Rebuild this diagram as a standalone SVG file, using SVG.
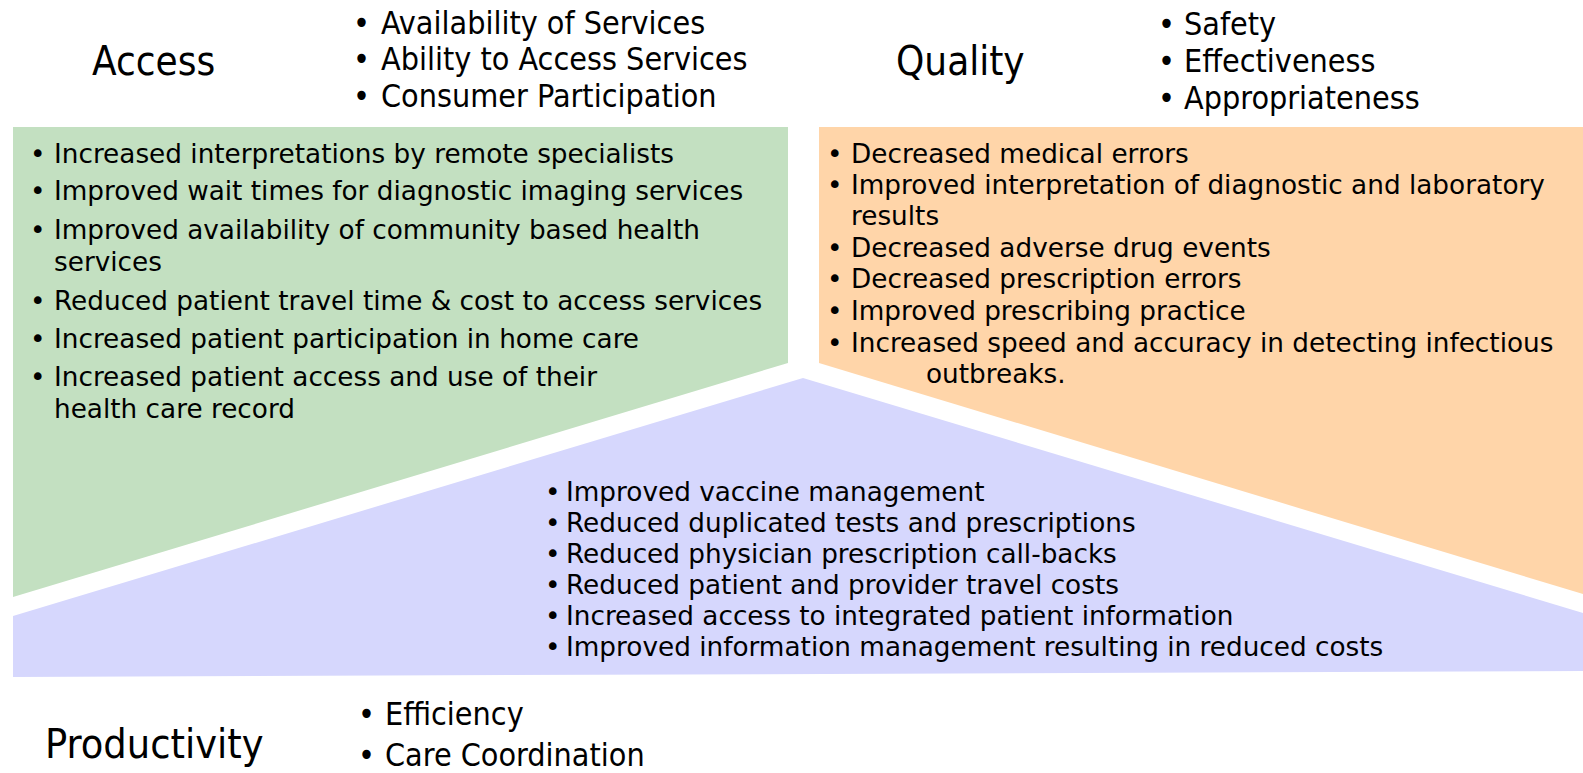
<svg xmlns="http://www.w3.org/2000/svg" width="1583" height="773" viewBox="0 0 1583 773">
  <style>
    .title { font-family: "DejaVu Sans Condensed", "DejaVu Sans", sans-serif; font-stretch: condensed; font-size: 40px; fill: #000; }
    .dim { font-family: "DejaVu Sans Condensed", "DejaVu Sans", sans-serif; font-stretch: condensed; font-size: 32px; fill: #000; }
    .item { font-family: "DejaVu Sans", "Verdana", sans-serif; font-size: 26.3px; fill: #000; }
    .access { fill: #c3e0c1; }
    .quality { fill: #ffd5a9; }
    .productivity { fill: #d6d7fd; }
  </style>

  <!-- Access: heading, dimensions and green panel -->
  <g id="access">
    <text class="title" x="92" y="75">Access</text>
    <g class="dim">
      <text x="353" y="34">•</text><text x="381" y="34">Availability of Services</text>
      <text x="353" y="70">•</text><text x="381" y="70">Ability to Access Services</text>
      <text x="353" y="107">•</text><text x="381" y="107">Consumer Participation</text>
    </g>
    <polygon class="access" points="13,127 788,127 788,363 13,597"/>
    <g class="item">
      <text x="30" y="163">•</text><text x="54" y="163">Increased interpretations by remote specialists</text>
      <text x="30" y="200">•</text><text x="54" y="200">Improved wait times for diagnostic imaging services</text>
      <text x="30" y="239">•</text><text x="54" y="239">Improved availability of community based health</text>
      <text x="54" y="271">services</text>
      <text x="30" y="310">•</text><text x="54" y="310">Reduced patient travel time &amp; cost to access services</text>
      <text x="30" y="348">•</text><text x="54" y="348">Increased patient participation in home care</text>
      <text x="30" y="386">•</text><text x="54" y="386">Increased patient access and use of their</text>
      <text x="54" y="418">health care record</text>
    </g>
  </g>

  <!-- Quality: heading, dimensions and orange panel -->
  <g id="quality">
    <text class="title" x="896" y="75">Quality</text>
    <g class="dim">
      <text x="1158" y="35">•</text><text x="1184" y="35">Safety</text>
      <text x="1158" y="72">•</text><text x="1184" y="72">Effectiveness</text>
      <text x="1158" y="109">•</text><text x="1184" y="109">Appropriateness</text>
    </g>
    <polygon class="quality" points="819,127 1583,127 1583,594 819,363"/>
    <g class="item">
      <text x="827" y="163">•</text><text x="851" y="163">Decreased medical errors</text>
      <text x="827" y="194">•</text><text x="851" y="194">Improved interpretation of diagnostic and laboratory</text>
      <text x="851" y="225">results</text>
      <text x="827" y="257">•</text><text x="851" y="257">Decreased adverse drug events</text>
      <text x="827" y="288">•</text><text x="851" y="288">Decreased prescription errors</text>
      <text x="827" y="320">•</text><text x="851" y="320">Improved prescribing practice</text>
      <text x="827" y="352">•</text><text x="851" y="352">Increased speed and accuracy in detecting infectious</text>
      <text x="926" y="383">outbreaks.</text>
    </g>
  </g>

  <!-- Productivity: heading, dimensions and purple panel -->
  <g id="productivity">
    <polygon class="productivity" points="803,378 1583,613 1583,671 13,677 13,616"/>
    <g class="item">
      <text x="545" y="501">•</text><text x="566" y="501">Improved vaccine management</text>
      <text x="545" y="532">•</text><text x="566" y="532">Reduced duplicated tests and prescriptions</text>
      <text x="545" y="563">•</text><text x="566" y="563">Reduced physician prescription call-backs</text>
      <text x="545" y="594">•</text><text x="566" y="594">Reduced patient and provider travel costs</text>
      <text x="545" y="625">•</text><text x="566" y="625">Increased access to integrated patient information</text>
      <text x="545" y="656">•</text><text x="566" y="656">Improved information management resulting in reduced costs</text>
    </g>
    <text class="title" x="45" y="758" style="font-size:41px">Productivity</text>
    <g class="dim">
      <text x="358" y="725">•</text><text x="385" y="725">Efficiency</text>
      <text x="358" y="766">•</text><text x="385" y="766">Care Coordination</text>
    </g>
  </g>
</svg>
